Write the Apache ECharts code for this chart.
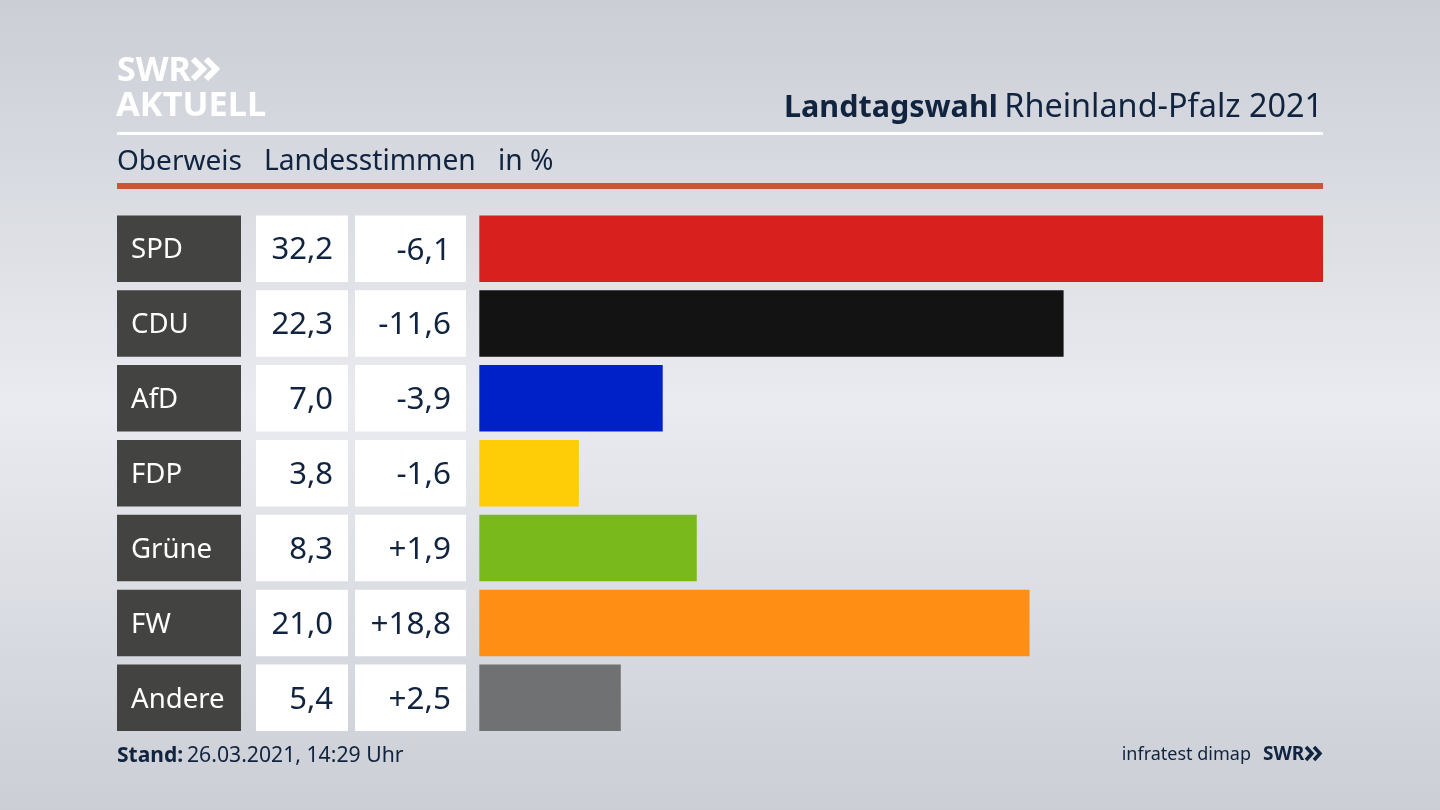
<!DOCTYPE html>
<html>
<head>
<meta charset="utf-8">
<title>Landtagswahl Rheinland-Pfalz 2021</title>
<script src="https://cdn.jsdelivr.net/npm/echarts@6/dist/echarts.min.js"></script>
<style>
  html, body { margin: 0; padding: 0; background: #dcdee3; }
  #chart { width: 1440px; height: 810px; }
</style>
</head>
<body>
<div id="chart"></div>
<script>
var parties = ['SPD', 'CDU', 'AfD', 'FDP', 'Grüne', 'FW', 'Andere'];
var shares = [32.2, 22.3, 7.0, 3.8, 8.3, 21.0, 5.4];
var changes = ['-6,1', '-11,6', '-3,9', '-1,6', '+1,9', '+18,8', '+2,5'];
var partyColors = ['#d8201f', '#131313', '#0021c8', '#ffcc08', '#7ab91b', '#ff8e14', '#707172'];

var font = '"Noto Sans"';
var navy = '#10233f';

// one grid per table column, all share the same rows
function column(left, width) {
  return { left: left, width: width, top: 211.2, height: 524 };
}

function tableSeries(index, color, texts, labelColor, size, pos, dist) {
  return {
    type: 'bar',
    xAxisIndex: index,
    yAxisIndex: index,
    barWidth: 66.5,
    silent: true,
    itemStyle: { color: color },
    label: {
      show: true,
      position: pos,
      distance: dist,
      offset: [0, 2],
      color: labelColor,
      fontFamily: font,
      fontSize: size,
      formatter: function (p) { return texts[p.dataIndex]; }
    },
    data: parties.map(function () { return 1; })
  };
}

function chevrons(x, y, h, w, gap, stroke) {
  var out = [];
  for (var i = 0; i < 2; i++) {
    out.push({
      type: 'polyline',
      silent: true,
      shape: { points: [[x + i * gap, y], [x + i * gap + w, y + h / 2], [x + i * gap, y + h]] },
      style: { stroke: stroke.color, lineWidth: stroke.width, fill: 'none' }
    });
  }
  return out;
}

function text(x, y, str, size, weight, color, align) {
  return {
    type: 'text',
    silent: true,
    x: x,
    y: y,
    style: {
      text: str,
      fill: color,
      fontFamily: font,
      fontSize: size,
      fontWeight: weight,
      textAlign: align || 'left',
      textVerticalAlign: 'middle'
    }
  };
}

var xAxes = [], yAxes = [];
for (var i = 0; i < 4; i++) {
  xAxes.push({ gridIndex: i, type: 'value', min: 0, max: i === 3 ? 32.2 : 1, show: false });
  yAxes.push({ gridIndex: i, type: 'category', inverse: true, data: parties, show: false });
}

var chart = echarts.init(document.getElementById('chart'));
chart.setOption({
  animation: false,
  backgroundColor: {
    type: 'linear', x: 0, y: 0, x2: 0, y2: 1,
    colorStops: [
      { offset: 0, color: '#cbced5' },
      { offset: 0.5, color: '#e9ebf0' },
      { offset: 1, color: '#cbced5' }
    ]
  },
  grid: [column(117, 124), column(256, 92), column(355, 111), column(479.3, 843.7)],
  xAxis: xAxes,
  yAxis: yAxes,
  series: [
    tableSeries(0, '#434341', parties, '#ffffff', 27.6, 'insideLeft', 14),
    tableSeries(1, '#ffffff', shares.map(function (v) { return v.toFixed(1).replace('.', ','); }), navy, 31, 'insideRight', 15),
    tableSeries(2, '#ffffff', changes, navy, 31.5, 'insideRight', 15),
    {
      type: 'bar',
      xAxisIndex: 3,
      yAxisIndex: 3,
      barWidth: 66.5,
      silent: true,
      data: shares.map(function (v, i) {
        return { value: v, itemStyle: { color: partyColors[i] } };
      })
    }
  ],
  graphic: [
    { type: 'rect', silent: true, shape: { x: 117, y: 132, width: 1206, height: 3 }, style: { fill: '#ffffff' } },
    { type: 'rect', silent: true, shape: { x: 117, y: 183, width: 1206, height: 6 }, style: { fill: '#c9553d' } },
    text(117, 71, 'SWR', 34, 700, '#ffffff'),
    text(116, 106, 'AKTUELL', 34.4, 700, '#ffffff'),
    text(784, 108, 'Landtagswahl', 30.5, 700, navy),
    text(1323, 108, 'Rheinland-Pfalz 2021', 32.4, 400, navy, 'right'),
    text(117, 162, 'Oberweis', 28, 400, navy),
    text(264, 162, 'Landesstimmen', 28.2, 400, navy),
    text(498, 162, 'in %', 28.2, 400, navy),
    text(117, 756, 'Stand:', 21, 700, navy),
    text(187, 756, '26.03.2021, 14:29 Uhr', 21.2, 400, navy),
    text(1251, 755, 'infratest dimap', 18, 400, navy, 'right'),
    text(1263, 755, 'SWR', 19, 700, navy)
  ].concat(
    chevrons(193, 59, 20, 10, 13, { color: '#ffffff', width: 6 }),
    chevrons(1306, 747, 13, 6, 8, { color: navy, width: 3.5 })
  )
});
</script>
</body>
</html>
